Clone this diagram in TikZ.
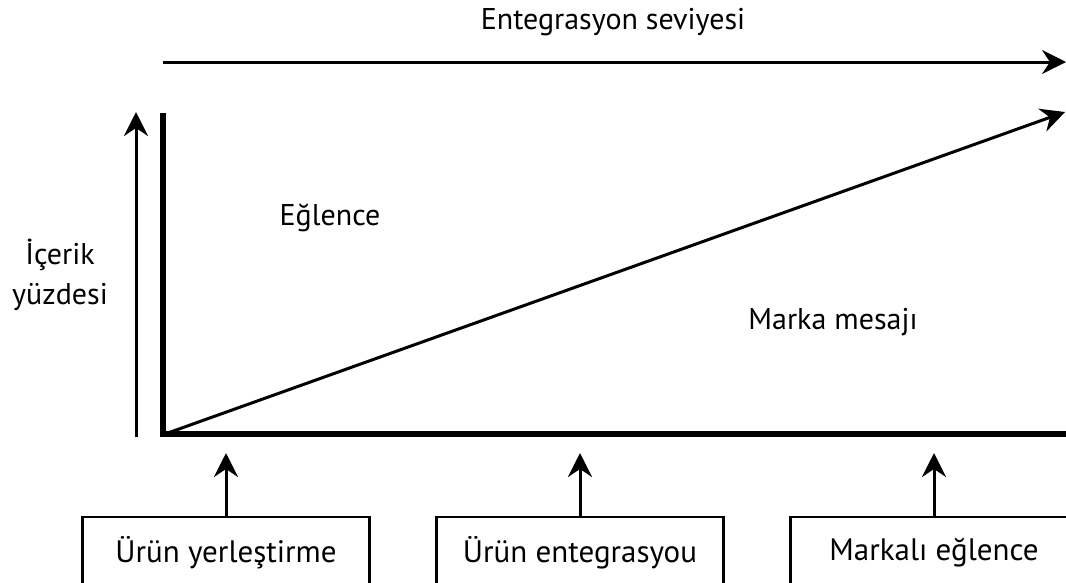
\documentclass[tikz,border=0pt]{standalone}
\usepackage{fontspec}
\setmainfont{PT Sans}
\usetikzlibrary{arrows.meta}
\begin{document}
\begin{tikzpicture}[x=1pt,y=-1pt,
  thinarrow/.style={line width=3pt,-{Stealth[length=24pt,width=24pt,inset=8pt]}},
  axisline/.style={line width=6pt,miter limit=10},
  lbl/.style={font=\fontsize{30}{40}\selectfont,inner sep=0pt,align=center},
  catbox/.style={draw,line width=2.2pt,minimum width=287pt,minimum height=72pt,inner sep=0pt,font=\fontsize{31}{36}\selectfont}]
\useasboundingbox (0,0) rectangle (1066,582);
\clip (0,0) rectangle (1066,582);
% title and top arrow
\node[lbl] (title) at (613,22) {Entegrasyon seviyesi};
\coordinate (tl) at (163,62);
\coordinate (tr) at (1066,62);
\draw[thinarrow] (tl) -- (tr);
% axes
\coordinate (ytop) at (163,113);
\coordinate (orig) at (163,434);
\coordinate (xend) at (1075,434);
\draw[axisline] (ytop) -- (orig) -- (xend);
% left arrow
\coordinate (lb) at (136,437);
\coordinate (lt) at (136,112);
\draw[thinarrow] (lb) -- (lt);
% diagonal
\coordinate (dstart) at (165,434);
\coordinate (dend) at (1065,112);
\draw[thinarrow] (dstart) -- (dend);
% labels
\node[lbl] (eg) at (330,218) {Eğlence};
\node[lbl] (ic) at (60,275) {İçerik\\yüzdesi};
\node[lbl] (mm) at (833,322) {Marka mesajı};
% boxes
\node[catbox] (b1) at (226,553) {Ürün yerleştirme};
\node[catbox] (b2) at (580,553) {Ürün entegrasyou};
\node[catbox] (b3) at (934,553) {Markalı eğlence};
\coordinate (a1) at (226,453);
\coordinate (a2) at (580,453);
\coordinate (a3) at (934,453);
\draw[thinarrow] (b1.north) -- (a1);
\draw[thinarrow] (b2.north) -- (a2);
\draw[thinarrow] (b3.north) -- (a3);
\end{tikzpicture}
\end{document}
